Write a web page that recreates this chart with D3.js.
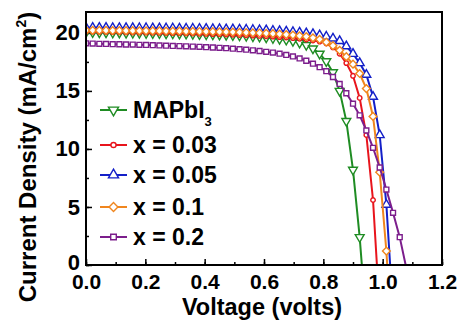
<!DOCTYPE html>
<html>
<head>
<meta charset="utf-8">
<script src="https://cdn.jsdelivr.net/npm/d3@7"></script>
<style>
  body { margin: 0; background: #fff; }
  svg { display: block; }
  text { font-family: "Liberation Sans", Arial, sans-serif; font-weight: bold; }
</style>
</head>
<body>
<div id="viz"></div>
<script>
// measured voltage grid (V)
const volts = [0, 0.0225, 0.045, 0.0675, 0.09, 0.1125, 0.135, 0.1575, 0.18, 0.2025,
    0.225, 0.2475, 0.27, 0.2925, 0.315, 0.3375, 0.36, 0.3825, 0.405, 0.4275,
    0.45, 0.4725, 0.495, 0.5175, 0.54, 0.5625, 0.585, 0.6075, 0.63, 0.6525,
    0.675, 0.6975, 0.72, 0.7425, 0.765, 0.7875, 0.81, 0.8325, 0.855, 0.8775,
    0.9, 0.9225, 0.945, 0.9675, 0.99, 1.0125, 1.035, 1.0575, 1.08, 1.1025];

// current density (mA/cm2) per sample
const jMAPbI3 = [20.05, 20.05, 20.04, 20.03, 20.02, 20.01, 20.0, 20.0, 19.99, 19.98,
    19.97, 19.96, 19.95, 19.94, 19.93, 19.92, 19.9, 19.89, 19.87, 19.86,
    19.84, 19.82, 19.8, 19.77, 19.74, 19.7, 19.66, 19.6, 19.55, 19.48,
    19.4, 19.3, 19.15, 18.95, 18.65, 18.2, 17.55, 16.6, 15.0, 12.4,
    8.2, 2.4, -5];
const j003 = [20.1, 20.1, 20.09, 20.08, 20.07, 20.06, 20.05, 20.04, 20.03, 20.02,
    20.01, 20.0, 19.99, 19.98, 19.97, 19.96, 19.95, 19.93, 19.92, 19.9,
    19.88, 19.86, 19.84, 19.82, 19.8, 19.77, 19.74, 19.71, 19.68, 19.64,
    19.6, 19.55, 19.5, 19.43, 19.35, 19.25, 19.1, 18.75, 18.2, 17.4,
    16.3, 14.4, 11.2, 5.6, -4];
const j005 = [20.45, 20.45, 20.44, 20.44, 20.43, 20.43, 20.42, 20.42, 20.41, 20.41,
    20.4, 20.4, 20.39, 20.39, 20.38, 20.37, 20.37, 20.36, 20.35, 20.34,
    20.33, 20.32, 20.31, 20.3, 20.28, 20.26, 20.24, 20.22, 20.19, 20.16,
    20.12, 20.08, 20.03, 19.97, 19.9, 19.8, 19.68, 19.52, 19.3, 18.85,
    18.2, 17.4, 16.4, 14.5, 11.2, 5.2, -4];
const j01 = [20.22, 20.22, 20.21, 20.21, 20.2, 20.2, 20.19, 20.19, 20.18, 20.18,
    20.17, 20.17, 20.16, 20.15, 20.15, 20.14, 20.13, 20.12, 20.11, 20.1,
    20.09, 20.08, 20.07, 20.05, 20.03, 20.01, 19.99, 19.96, 19.93, 19.9,
    19.86, 19.81, 19.75, 19.68, 19.58, 19.45, 19.2, 18.9, 18.5, 17.95,
    17.3, 16.5, 15.2, 12.8, 8.0, 1.2, -8];
const j02 = [19.1, 19.08, 19.06, 19.05, 19.03, 19.02, 19.0, 18.99, 18.97, 18.96,
    18.94, 18.92, 18.9, 18.88, 18.86, 18.84, 18.82, 18.8, 18.77, 18.74,
    18.71, 18.68, 18.64, 18.6, 18.55, 18.5, 18.44, 18.37, 18.3, 18.21,
    18.1, 17.97, 17.8, 17.6, 17.35, 17.05, 16.7, 16.2, 15.6, 14.8,
    13.9, 12.9, 11.6, 10.1, 8.4, 6.5, 4.5, 2.4, -0.3];

const seriesNames = ['MAPbI3', 'x = 0.03', 'x = 0.05', 'x = 0.1', 'x = 0.2'];
const seriesValues = [jMAPbI3, j003, j005, j01, j02];
const seriesColors = ['#1f8c23', '#e8141c', '#1420c8', '#f0861e', '#7c1e8c'];
const seriesMarkers = ['triDown', 'circle', 'triUp', 'diamond', 'square'];

const xTicks = [0, 0.2, 0.4, 0.6, 0.8, 1.0, 1.2];
const yTicks = [0, 5, 10, 15, 20];

const width = 458, height = 322;
const margin = { left: 86, right: 16, top: 12, bottom: 57 };
const plotW = width - margin.left - margin.right;
const plotH = height - margin.top - margin.bottom;

let xScale = d3.scaleLinear().domain([0, 1.2]).range([0, plotW]);
let yScale = d3.scaleLinear().domain([0, 21.8]).range([plotH, 0]);

let svg = d3.select('#viz')
    .append('svg')
    .attr('width', width)
    .attr('height', height);

svg.append('defs').append('clipPath')
    .attr('id', 'plot-clip')
  .append('rect')
    .attr('width', plotW)
    .attr('height', plotH);

let g = svg.append('g')
    .attr('transform', `translate(${margin.left},${margin.top})`);

// minor ticks (inward) on bottom and left
let minorX = d3.range(0, 1.21, 0.1);
let minorY = d3.range(0, 21, 2.5);

g.append('g')
    .attr('transform', `translate(0,${plotH})`)
    .call(d3.axisBottom(xScale).tickValues(minorX).tickSize(-3).tickFormat(''))
    .call(a => a.select('.domain').remove())
    .selectAll('line').attr('stroke', '#000').attr('stroke-width', 1.5);

g.append('g')
    .call(d3.axisLeft(yScale).tickValues(minorY).tickSize(-3).tickFormat(''))
    .call(a => a.select('.domain').remove())
    .selectAll('line').attr('stroke', '#000').attr('stroke-width', 1.5);

let xAxis = g.append('g')
    .attr('transform', `translate(0,${plotH})`)
    .call(d3.axisBottom(xScale).tickValues(xTicks).tickSize(-6).tickPadding(9)
        .tickFormat(d3.format('.1f')));
xAxis.select('.domain').remove();
xAxis.selectAll('line').attr('stroke', '#000').attr('stroke-width', 1.5);
xAxis.selectAll('text')
    .attr('font-size', 21)
    .attr('font-family', '"Liberation Sans", Arial, sans-serif')
    .attr('font-weight', 'bold')
    .attr('fill', '#000');

let yAxis = g.append('g')
    .call(d3.axisLeft(yScale).tickValues(yTicks).tickSize(-6).tickPadding(6));
yAxis.select('.domain').remove();
yAxis.selectAll('line').attr('stroke', '#000').attr('stroke-width', 1.5);
yAxis.selectAll('text')
    .attr('font-size', 22)
    .attr('font-family', '"Liberation Sans", Arial, sans-serif')
    .attr('font-weight', 'bold')
    .attr('fill', '#000')
    .attr('dy', d => d === 0 ? '0.2em' : '0.32em');

// curves
const symbolFor = {
    triDown: { type: d3.symbolTriangle, size: 34, rot: 180 },
    triUp: { type: d3.symbolTriangle, size: 34, rot: 0 },
    circle: { type: d3.symbolCircle, size: 16, rot: 0 },
    diamond: { type: d3.symbolSquare, size: 30, rot: 45 },
    square: { type: d3.symbolSquare, size: 24, rot: 0 }
};

let line = d3.line()
    .x(d => xScale(d[0]))
    .y(d => yScale(d[1]));

let plot = g.append('g').attr('clip-path', 'url(#plot-clip)');

seriesValues.forEach((vals, si) => {
    let pts = vals.map((j, i) => [volts[i], j]);
    let sg = plot.append('g');
    sg.append('path')
        .datum(pts)
        .attr('d', line)
        .attr('fill', 'none')
        .attr('stroke', seriesColors[si])
        .attr('stroke-width', 2);
    let sym = symbolFor[seriesMarkers[si]];
    sg.selectAll('path.mk').data(pts)
        .enter()
        .append('path')
        .attr('class', 'mk')
        .attr('d', d3.symbol().type(sym.type).size(sym.size))
        .attr('transform', d => `translate(${xScale(d[0])},${yScale(d[1])}) rotate(${sym.rot})`)
        .attr('fill', '#fff')
        .attr('stroke', seriesColors[si])
        .attr('stroke-width', 1.4);
});

// frame
g.append('rect')
    .attr('width', plotW)
    .attr('height', plotH)
    .attr('fill', 'none')
    .attr('stroke', '#000')
    .attr('stroke-width', 2);

// legend
const legendY = [98, 133, 163, 195, 225];
let legend = g.append('g').attr('transform', 'translate(14,0)');
seriesNames.forEach((name, i) => {
    let lg = legend.append('g').attr('transform', `translate(0,${legendY[i]})`);
    lg.append('line')
        .attr('x1', 0).attr('x2', 27)
        .attr('stroke', seriesColors[i])
        .attr('stroke-width', 2);
    let sym = symbolFor[seriesMarkers[i]];
    lg.append('path')
        .attr('d', d3.symbol().type(sym.type).size(sym.size * 1.3))
        .attr('transform', `translate(13.5,0) rotate(${sym.rot})`)
        .attr('fill', '#fff')
        .attr('stroke', seriesColors[i])
        .attr('stroke-width', 1.4);
    let t = lg.append('text')
        .attr('x', 33)
        .attr('dy', '0.36em')
        .attr('font-size', 23)
        .attr('fill', '#000');
    if (name === 'MAPbI3') {
        t.append('tspan').text('MAPbI');
        t.append('tspan').attr('font-size', 13).attr('dy', 8).text('3');
    } else {
        t.text(name);
    }
});

// axis titles
svg.append('text')
    .attr('x', 262)
    .attr('y', 315)
    .attr('text-anchor', 'middle')
    .attr('font-size', 23.5)
    .attr('fill', '#000')
    .text('Voltage (volts)');

let yt = svg.append('text')
    .attr('transform', `translate(36,157) rotate(-90)`)
    .attr('text-anchor', 'middle')
    .attr('font-size', 24)
    .attr('fill', '#000');
yt.append('tspan').text('Current Density (mA/cm');
yt.append('tspan').attr('font-size', 14).attr('dy', -10).text('2');
yt.append('tspan').attr('dy', 10).text(')');
</script>
</body>
</html>
